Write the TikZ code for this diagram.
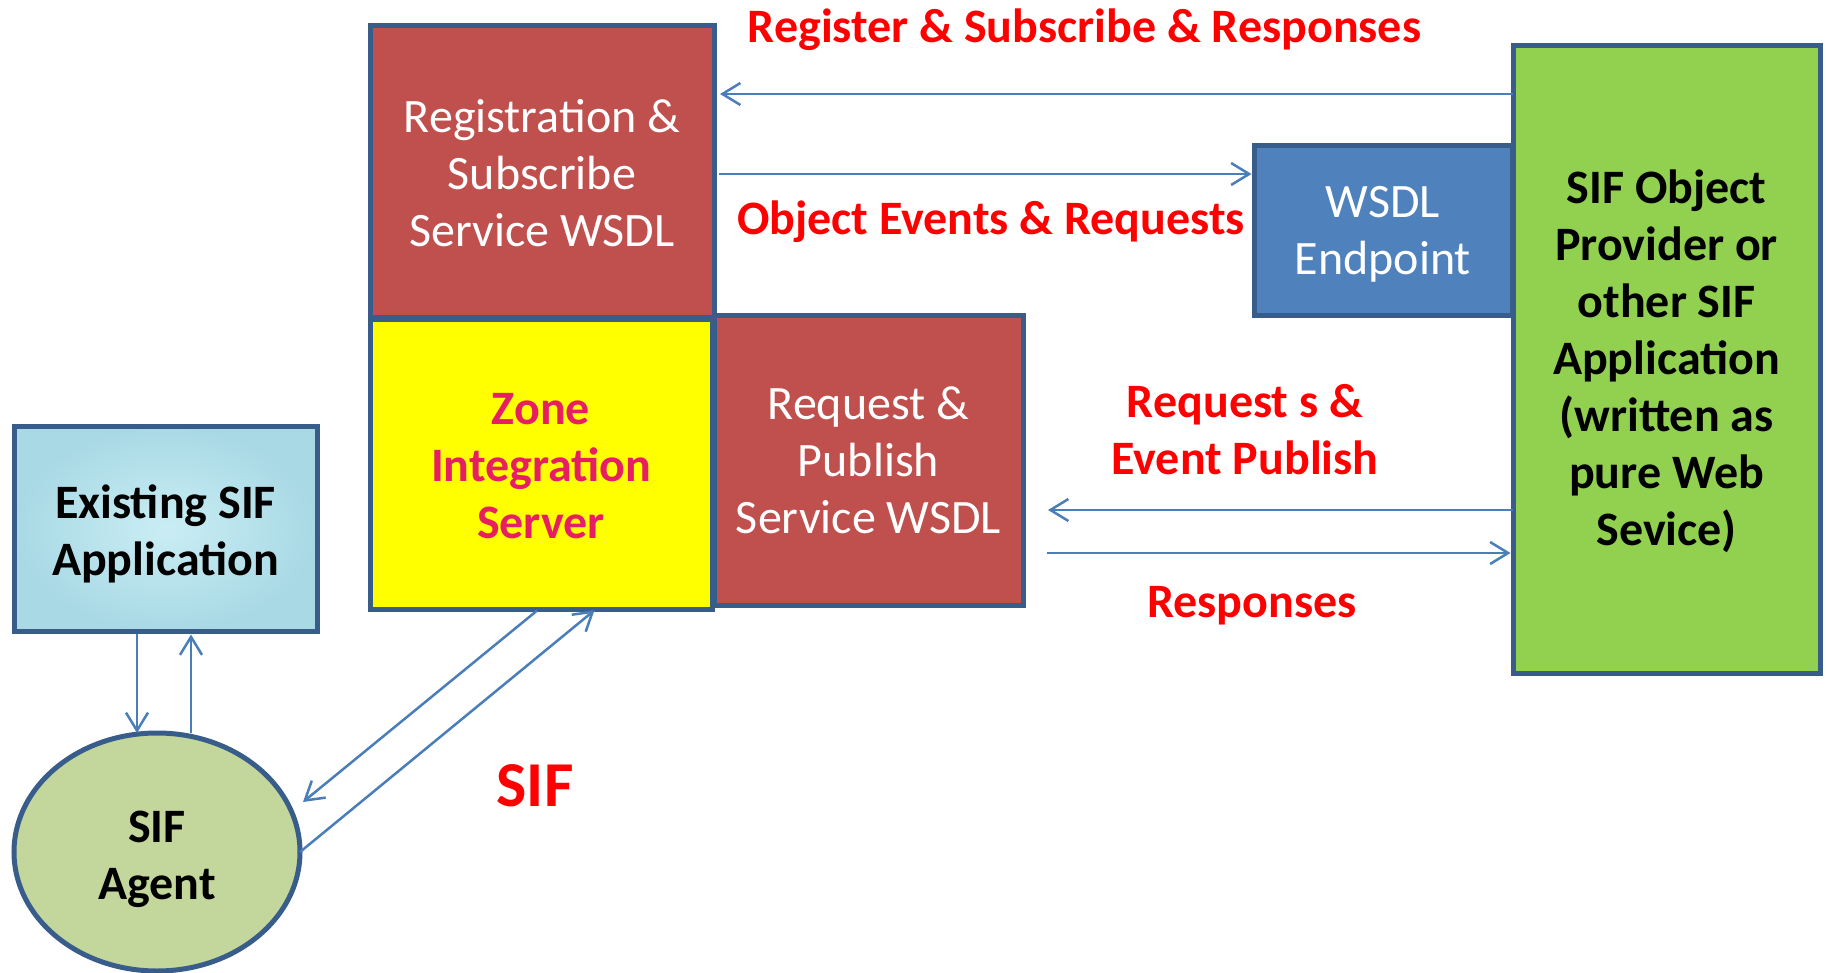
\documentclass[tikz,border=0pt]{standalone}
\usepackage{fontspec}
\setmainfont{Carlito}
\usetikzlibrary{arrows.meta,shapes.geometric,calc}
\definecolor{bord}{RGB}{56,93,138}
\definecolor{redbox}{RGB}{192,80,77}
\definecolor{bluebox}{RGB}{79,129,189}
\definecolor{greenbox}{RGB}{146,208,80}
\definecolor{olivebox}{RGB}{195,214,155}
\definecolor{arrowc}{RGB}{74,126,187}
\definecolor{zonec}{RGB}{232,30,100}
\definecolor{lblred}{RGB}{255,0,0}
\definecolor{yel}{RGB}{255,255,0}
\definecolor{waterin}{RGB}{202,237,244}
\definecolor{waterout}{RGB}{168,217,229}
\tikzset{
  box/.style={draw=bord, line width=5pt, inner sep=0pt, outer sep=0pt},
  txt/.style={inner sep=0pt, align=center, font=\fontsize{48}{57}\selectfont},
  btxt/.style={txt, font=\bfseries\fontsize{48}{57}\selectfont},
  lbl/.style={btxt, text=lblred},
  arr/.style={draw=arrowc, line width=2.5pt,
    -{Straight Barb[length=18pt,width=22pt,line width=2.5pt]}}
}
\begin{document}
\begin{tikzpicture}[x=1pt,y=-1pt]
\useasboundingbox (0,0) rectangle (1828,973);
\fill[white] (0,0) rectangle (1828,973);

% boxes
\node[box, fill=redbox, minimum width=309pt, minimum height=289pt] (rp) at (868.5,460.5) {};
\node[box, fill=yel, minimum width=342pt, minimum height=289pt] (zis) at (541,464.5) {};
\node[box, fill=redbox, minimum width=344pt, minimum height=292pt] (reg) at (542,172) {};
\node[box, fill=bluebox, minimum width=258pt, minimum height=170pt] (wsdl) at (1383,231) {};
\node[box, fill=greenbox, minimum width=307pt, minimum height=627pt] (green) at (1666.5,359.5) {};
\node[box, inner color=waterin, outer color=waterout, minimum width=303pt, minimum height=205pt] (exist) at (165.5,529) {};
\node[box, ellipse, fill=olivebox, minimum width=286pt, minimum height=238pt] (agent) at (157,852) {};

% box texts
\node[txt, text=white] (rpt) at ([yshift=0pt]rp.center) {Request \&\\Publish\\Service WSDL};
\node[btxt, text=zonec] (zist) at ([yshift=-2pt]zis.center) {Zone\\Integration\\Server};
\node[txt, text=white] (regt) at ([yshift=-1pt]reg.center) {Registration \&\\Subscribe\\Service WSDL};
\node[txt, text=white] (wsdlt) at ([yshift=-3pt]wsdl.center) {WSDL\\Endpoint};
\node[btxt, text=black] (greent) at ([yshift=-2pt]green.center)
  {SIF Object\\Provider or\\other SIF\\Application\\(written as\\pure Web\\Sevice)};
\node[btxt, text=black] (existt) at ([yshift=-5pt]exist.center) {Existing SIF\\Application};
\node[btxt, text=black] (agentt) at ([yshift=-7pt]agent.center) {SIF\\Agent};

% labels
\node[lbl] (l1) at (1084.5,30) {Register \& Subscribe \& Responses};
\node[lbl] (l2) at (991,222) {Object Events \& Requests};
\node[lbl] (l3) at (1245,430) {Request s \&\\Event Publish};
\node[lbl] (l4) at (1252,606) {Responses};
\node[lbl, font=\bfseries\fontsize{64}{72}\selectfont] (l5) at (535,786) {SIF};

% free end
\coordinate (a1) at (303,802);

% connectors
\draw[arr, shorten >=6pt] (green.west |- 0,94) -- (reg.east |- 0,94);
\draw[arr, shorten <=5pt, shorten >=2.5pt] (reg.east |- 0,174) -- (wsdl.west |- 0,174);
\draw[arr, shorten >=25pt] (green.west |- 0,510) -- (rp.east |- 0,510);
\draw[arr, shorten <=24pt, shorten >=2.5pt] (rp.east |- 0,553) -- (green.west |- 0,553);
\draw[arr, shorten <=2.5pt] (exist.south -| 137,0) -- (agent.north -| 137,0);
\draw[arr, shorten >=3pt] (agent.north -| 191,0) -- (exist.south -| 191,0);
\draw[arr, shorten <=2.5pt] (zis.south -| 539,0) -- (a1);
\draw[arr, shorten >=2pt] (agent.east) -- (zis.south -| 596,0);
\end{tikzpicture}
\end{document}
